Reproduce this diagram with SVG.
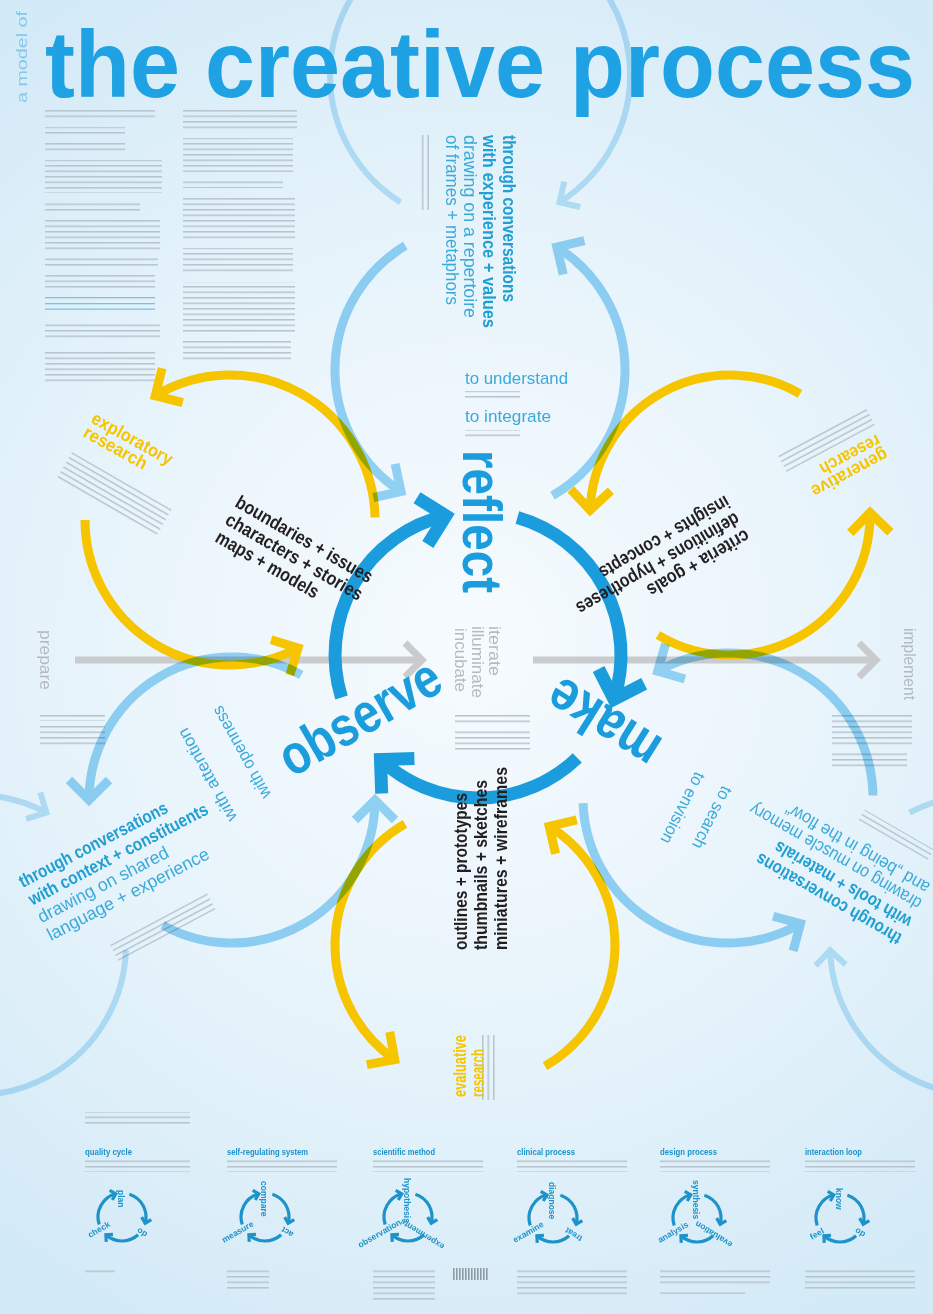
<svg xmlns="http://www.w3.org/2000/svg" width="933" height="1314" viewBox="0 0 933 1314">
<style>
.t{font-family:"Liberation Sans",Arial,sans-serif}
.big{fill:#1b9ddd;font-weight:bold;font-size:56px}
.blk{fill:#231f20;font-weight:bold;font-size:19px}
.tlb{fill:#1f9fd3;font-weight:bold;font-size:18px}
.tlr{fill:#3aaadb;font-size:18px}
.tls{fill:#3aaadb;font-size:17px}
.gw{fill:#b5babe;font-size:17px}
.yl{fill:#f6c500;font-weight:bold;font-size:18px}
.mt{fill:#1d93c9;font-weight:bold;font-size:9.5px}
.ml{fill:#1d93c9;font-weight:bold;font-size:8.5px}
.main{fill:none;stroke:#1b9ddd;stroke-width:13;marker-end:url(#mb)}
.yel{fill:none;stroke:#f6c500;stroke-width:9;marker-end:url(#my)}
.lb{fill:none;stroke:#99d6f5;stroke-width:9}
.lba{marker-end:url(#ml)}
.gh{fill:none;stroke:#c3e6f8;stroke-width:6}
.gha{marker-end:url(#mg)}
.gray{fill:none;stroke:#c9cbcd;stroke-width:7;marker-end:url(#mgr)}
.cy{fill:none;stroke:#1d93c9;stroke-width:3.2;marker-end:url(#mc)}
.tx{fill:url(#ln)}
</style>
<defs>
<radialGradient id="bg" cx="470" cy="640" r="760" gradientUnits="userSpaceOnUse">
<stop offset="0" stop-color="#f6fbfe"/>
<stop offset="0.5" stop-color="#e8f4fb"/>
<stop offset="1" stop-color="#d3eaf7"/>
</radialGradient>
<pattern id="ln" width="8" height="5.5" patternUnits="userSpaceOnUse"><rect width="8" height="1.5" fill="#b7c4cd"/></pattern>
<pattern id="bar" width="3" height="12" patternUnits="userSpaceOnUse"><rect width="1.6" height="12" fill="#8f9ba3"/></pattern>
<marker id="mb" markerUnits="userSpaceOnUse" orient="auto" overflow="visible" markerWidth="1" markerHeight="1"><path d="M-24,-24 L0,0 L-24,24" fill="none" stroke="#1b9ddd" stroke-width="13"/></marker>
<marker id="my" markerUnits="userSpaceOnUse" orient="auto" overflow="visible" markerWidth="1" markerHeight="1"><path d="M-20,-20 L0,0 L-20,20" fill="none" stroke="#f6c500" stroke-width="9"/></marker>
<marker id="ml" markerUnits="userSpaceOnUse" orient="auto" overflow="visible" markerWidth="1" markerHeight="1"><path d="M-20,-20 L0,0 L-20,20" fill="none" stroke="#99d6f5" stroke-width="9"/></marker>
<marker id="mg" markerUnits="userSpaceOnUse" orient="auto" overflow="visible" markerWidth="1" markerHeight="1"><path d="M-15,-15 L0,0 L-15,15" fill="none" stroke="#c3e6f8" stroke-width="6"/></marker>
<marker id="mgr" markerUnits="userSpaceOnUse" orient="auto" overflow="visible" markerWidth="1" markerHeight="1"><path d="M-17,-17 L0,0 L-17,17" fill="none" stroke="#c9cbcd" stroke-width="7"/></marker>
<marker id="mc" markerUnits="userSpaceOnUse" orient="auto" overflow="visible" markerWidth="1" markerHeight="1"><path d="M-5,-5 L0,0 L-5,5" fill="none" stroke="#1d93c9" stroke-width="3.2"/></marker>
<g id="cyc">
<path class="cy" d="M-22.8,7.4 A24,24 0 0 1 -6.2,-23.2"/>
<path class="cy" d="M7.4,-22.8 A24,24 0 0 1 23.2,6.2"/>
<path class="cy" d="M16.1,17.8 A24,24 0 0 1 -16.1,17.8"/>
</g>
</defs>

<rect width="933" height="1314" fill="url(#bg)"/>

<g id="smallprint">
<rect class="tx" x="45" y="110" width="110" height="8"/>
<rect class="tx" x="45" y="127" width="80" height="8"/>
<rect class="tx" x="45" y="143" width="80" height="8"/>
<rect class="tx" x="45" y="160" width="117" height="33"/>
<rect class="tx" x="45" y="203" width="95" height="8"/>
<rect class="tx" x="45" y="220" width="115" height="30"/>
<rect class="tx" x="45" y="258" width="113" height="8"/>
<rect class="tx" x="45" y="275" width="110" height="16"/>
<rect x="45" y="297" width="110" height="1.3" fill="#7cc1e4"/>
<rect x="45" y="303" width="110" height="1.3" fill="#7cc1e4"/>
<rect x="45" y="308.5" width="110" height="1.3" fill="#7cc1e4"/>
<rect class="tx" x="45" y="324" width="115" height="16"/>
<rect class="tx" x="45" y="352" width="110" height="33"/>
<rect class="tx" x="183" y="110" width="114" height="22"/>
<rect class="tx" x="183" y="138" width="110" height="34"/>
<rect class="tx" x="183" y="178" width="100" height="10"/>
<rect class="tx" x="183" y="195" width="112" height="45"/>
<rect class="tx" x="183" y="248" width="110" height="24"/>
<rect class="tx" x="183" y="282" width="112" height="50"/>
<rect class="tx" x="183" y="341" width="108" height="20"/>
<g transform="translate(418,135) rotate(90)"><rect class="tx" x="0" y="-14" width="75" height="14"/></g>
<rect class="tx" x="465" y="391" width="55" height="8"/>
<rect class="tx" x="465" y="430" width="55" height="8"/>
<rect class="tx" x="455" y="715" width="75" height="10"/>
<rect class="tx" x="455" y="731" width="75" height="22"/>
<rect class="tx" x="40" y="713" width="65" height="8"/>
<rect class="tx" x="40" y="726" width="65" height="20"/>
<rect class="tx" x="832" y="713" width="80" height="35"/>
<rect class="tx" x="832" y="753" width="75" height="16"/>
<g transform="translate(72,452) rotate(30)"><rect class="tx" x="0" y="0" width="115" height="32"/></g>
<g transform="translate(875,425) rotate(152)"><rect class="tx" x="0" y="0" width="100" height="20"/></g>
<g transform="translate(110,945) rotate(-28)"><rect class="tx" x="0" y="0" width="110" height="18"/></g>
<g transform="translate(928,860) rotate(210)"><rect class="tx" x="0" y="0" width="80" height="12"/></g>
<g transform="translate(482,1100) rotate(-90)"><rect class="tx" x="0" y="0" width="65" height="15"/></g>
<rect class="tx" x="85" y="1112" width="105" height="14"/>
<rect class="tx" x="85" y="1158" width="105" height="14"/>
<rect class="tx" x="227" y="1158" width="110" height="14"/>
<rect class="tx" x="373" y="1158" width="110" height="14"/>
<rect class="tx" x="517" y="1158" width="110" height="14"/>
<rect class="tx" x="660" y="1158" width="110" height="14"/>
<rect class="tx" x="805" y="1158" width="110" height="14"/>
<rect class="tx" x="85" y="1268" width="30" height="8"/>
<rect class="tx" x="227" y="1268" width="42" height="22"/>
<rect class="tx" x="373" y="1268" width="62" height="32"/>
<rect class="tx" x="517" y="1268" width="110" height="27"/>
<rect class="tx" x="660" y="1268" width="110" height="16"/>
<rect class="tx" x="660" y="1290" width="85" height="4"/>
<rect class="tx" x="805" y="1268" width="110" height="22"/>
<rect x="452" y="1268" width="36" height="12" fill="url(#bar)"/>
</g>

<g id="connectors">
<path class="gray" d="M75,660 H422"/>
<path class="gray" d="M533,660 H876"/>
<g id="research-loops">
<path class="yel" d="M375,517.5 A145,145 0 0 0 155.3,395.7"/>
<path class="yel" d="M85,520 A145,145 0 0 0 298.1,648"/>
<path class="yel" d="M800,393.8 A140,140 0 0 0 590.1,510.1"/>
<path class="yel" d="M657.9,635 A140,140 0 0 0 870,512.6"/>
<path class="yel" d="M405,823.8 A140,140 0 0 0 394.7,1059.7"/>
<path class="yel" d="M545,1066.2 A140,140 0 0 0 549.2,826.3"/>
</g>
<g id="conversation-loops" style="mix-blend-mode:multiply">
<path class="gh" d="M400.5,202.2 A150,150 0 0 1 405,-54.9"/>
<path class="gh gha" d="M531.3,-66 A150,150 0 0 1 559.5,202.2"/>
<path class="gh" d="M909.6,812.6 A150,150 0 0 1 1130,945"/>
<path class="gh gha" d="M1076.4,1059.9 A150,150 0 0 1 830.1,950.2"/>
<path class="gh" d="M125.9,950.2 A150,150 0 0 1 -99,1074.9"/>
<path class="gh gha" d="M-171.7,971 A150,150 0 0 1 46.4,812.6"/>
<path class="lb lba" d="M405.3,245.7 A145,145 0 0 0 401,491.6"/>
<path class="lb lba" d="M552.5,495.6 A145,145 0 0 0 556.8,247"/>
<path class="lb lba" d="M301.3,674.9 A143,143 0 0 0 89,800"/>
<path class="lb lba" d="M162.7,925.1 A143,143 0 0 0 375,800"/>
<path class="lb lba" d="M873,795.5 A145,145 0 0 0 657.7,671.2"/>
<path class="lb lba" d="M583.1,803.1 A145,145 0 0 0 800.5,923.6"/>
</g>
<g id="main-cycle">
<path class="main" d="M341.5,697.5 A143,143 0 0 1 445.8,515.7"/>
<path class="main" d="M517.4,517.5 A143,143 0 0 1 614,699.2"/>
<path class="main" d="M577.3,757.9 A143,143 0 0 1 380.5,759.6"/>
</g>
</g>

<g id="title" class="t">
<text transform="translate(45,97) scale(1,1.06)" font-size="90" font-weight="bold" fill="#1ea2e3" textLength="870" lengthAdjust="spacingAndGlyphs">the creative process</text>
<text transform="translate(27,103) rotate(-90)" font-size="14" fill="#86c8ea" textLength="92" lengthAdjust="spacingAndGlyphs">a model of</text>
</g>

<g id="phases" class="t">
<text class="gw" transform="translate(40,630) rotate(90)" font-size="18" textLength="60" lengthAdjust="spacingAndGlyphs">prepare</text>
<text class="gw" transform="translate(904,628) rotate(90)" font-size="18" textLength="72" lengthAdjust="spacingAndGlyphs">implement</text>
<text class="gw" transform="translate(455,628) rotate(90)" textLength="64" lengthAdjust="spacingAndGlyphs">incubate</text>
<text class="gw" transform="translate(472,626) rotate(90)" textLength="72" lengthAdjust="spacingAndGlyphs">illuminate</text>
<text class="gw" transform="translate(489,626) rotate(90)" textLength="50" lengthAdjust="spacingAndGlyphs">iterate</text>
</g>

<g id="node-reflect" class="t">
<text class="big" transform="translate(463,450) rotate(90)" textLength="143" lengthAdjust="spacingAndGlyphs">reflect</text>
<text class="tls" x="465" y="384" textLength="103" lengthAdjust="spacingAndGlyphs">to understand</text>
<text class="tls" x="465" y="422" textLength="86" lengthAdjust="spacingAndGlyphs">to integrate</text>
<text class="tlb" transform="translate(503,135) rotate(90)" textLength="167" lengthAdjust="spacingAndGlyphs">through conversations</text>
<text class="tlb" transform="translate(483,135) rotate(90)" textLength="193" lengthAdjust="spacingAndGlyphs">with experience + values</text>
<text class="tlr" transform="translate(464,135) rotate(90)" textLength="183" lengthAdjust="spacingAndGlyphs">drawing on a repertoire</text>
<text class="tlr" transform="translate(446,135) rotate(90)" textLength="170" lengthAdjust="spacingAndGlyphs">of frames + metaphors</text>
</g>

<g id="node-observe" class="t">
<text class="big" transform="translate(292,778) rotate(-30)" textLength="178" lengthAdjust="spacingAndGlyphs">observe</text>
<text class="tls" transform="translate(271.4,794.6) rotate(-119)" textLength="103" lengthAdjust="spacingAndGlyphs">with openness</text>
<text class="tls" transform="translate(237.4,817.6) rotate(-119)" textLength="104" lengthAdjust="spacingAndGlyphs">with attention</text>
<text class="tlb" transform="translate(22.8,888) rotate(-27.5)" textLength="165" lengthAdjust="spacingAndGlyphs">through conversations</text>
<text class="tlb" transform="translate(32.2,905.7) rotate(-27.5)" textLength="200" lengthAdjust="spacingAndGlyphs">with context + constituents</text>
<text class="tlr" transform="translate(41.6,923.3) rotate(-27.5)" textLength="145" lengthAdjust="spacingAndGlyphs">drawing on shared</text>
<text class="tlr" transform="translate(51,941) rotate(-27.5)" textLength="180" lengthAdjust="spacingAndGlyphs">language + experience</text>
</g>

<g id="node-make" class="t">
<text class="big" transform="translate(665,740) rotate(212)" textLength="122" lengthAdjust="spacingAndGlyphs">make</text>
<text class="tls" transform="translate(722.5,784.7) rotate(117)" textLength="68" lengthAdjust="spacingAndGlyphs">to search</text>
<text class="tls" transform="translate(695.5,770.7) rotate(117)" textLength="78" lengthAdjust="spacingAndGlyphs">to envision</text>
<text class="tlb" transform="translate(903,935) rotate(210)" textLength="165" lengthAdjust="spacingAndGlyphs">through conversations</text>
<text class="tlb" transform="translate(913,918) rotate(210)" textLength="155" lengthAdjust="spacingAndGlyphs">with tools + materials</text>
<text class="tlr" transform="translate(923,900) rotate(210)" textLength="195" lengthAdjust="spacingAndGlyphs">drawing on muscle memory</text>
<text class="tlr" transform="translate(931,884) rotate(210)" textLength="163" lengthAdjust="spacingAndGlyphs">and „being in the flow“</text>
</g>

<g id="artefacts-observe-reflect" class="t">
<text class="blk" transform="translate(234,506) rotate(30)" textLength="155" lengthAdjust="spacingAndGlyphs">boundaries + issues</text>
<text class="blk" transform="translate(224,523.5) rotate(30)" textLength="155" lengthAdjust="spacingAndGlyphs">characters + stories</text>
<text class="blk" transform="translate(214,541) rotate(30)" textLength="116" lengthAdjust="spacingAndGlyphs">maps + models</text>
</g>
<g id="artefacts-reflect-make" class="t">
<text class="blk" transform="translate(745,529) rotate(150)" textLength="115" lengthAdjust="spacingAndGlyphs">criteria + goals</text>
<text class="blk" transform="translate(735,512) rotate(150)" textLength="185" lengthAdjust="spacingAndGlyphs">definitions + hypotheses</text>
<text class="blk" transform="translate(725,495) rotate(150)" textLength="147" lengthAdjust="spacingAndGlyphs">insights + concepts</text>
</g>
<g id="artefacts-make-observe" class="t">
<text class="blk" transform="translate(467,950) rotate(-90)" textLength="157" lengthAdjust="spacingAndGlyphs">outlines + prototypes</text>
<text class="blk" transform="translate(487,950) rotate(-90)" textLength="170" lengthAdjust="spacingAndGlyphs">thumbnails + sketches</text>
<text class="blk" transform="translate(507,950) rotate(-90)" textLength="183" lengthAdjust="spacingAndGlyphs">miniatures + wireframes</text>
</g>

<g id="research-exploratory" class="t">
<text class="yl" transform="translate(90,422) rotate(29)" textLength="90" lengthAdjust="spacingAndGlyphs">exploratory</text>
<text class="yl" transform="translate(82,436) rotate(29)" textLength="70" lengthAdjust="spacingAndGlyphs">research</text>
</g>
<g id="research-generative" class="t">
<text class="yl" transform="translate(884,448) rotate(152)" textLength="84" lengthAdjust="spacingAndGlyphs">generative</text>
<text class="yl" transform="translate(876.5,434) rotate(152)" textLength="66" lengthAdjust="spacingAndGlyphs">research</text>
</g>
<g id="research-evaluative" class="t">
<text class="yl" transform="translate(466,1097) rotate(-90)" textLength="62" lengthAdjust="spacingAndGlyphs">evaluative</text>
<text class="yl" transform="translate(484,1097) rotate(-90)" textLength="48" lengthAdjust="spacingAndGlyphs">research</text>
</g>

<g id="mini-quality" class="t">
<text class="mt" x="85" y="1155" textLength="47" lengthAdjust="spacingAndGlyphs">quality cycle</text>
<use href="#cyc" x="122" y="1217"/>
<text class="ml" transform="translate(118,1190) rotate(90)">plan</text>
<text class="ml" transform="translate(90,1238) rotate(-30)">check</text>
<text class="ml" transform="translate(148,1233) rotate(212)">do</text>
</g>
<g id="mini-selfreg" class="t">
<text class="mt" x="227" y="1155" textLength="81" lengthAdjust="spacingAndGlyphs">self-regulating system</text>
<use href="#cyc" x="265" y="1217"/>
<text class="ml" transform="translate(261,1181) rotate(90)">compare</text>
<text class="ml" transform="translate(224,1243) rotate(-30)">measure</text>
<text class="ml" transform="translate(294,1233) rotate(212)">act</text>
</g>
<g id="mini-scientific" class="t">
<text class="mt" x="373" y="1155" textLength="62" lengthAdjust="spacingAndGlyphs">scientific method</text>
<use href="#cyc" x="408" y="1217"/>
<text class="ml" transform="translate(404,1178) rotate(90)">hypothesis</text>
<text class="ml" transform="translate(360,1248) rotate(-30)">observation</text>
<text class="ml" transform="translate(445,1245) rotate(212)">experiments</text>
</g>
<g id="mini-clinical" class="t">
<text class="mt" x="517" y="1155" textLength="58" lengthAdjust="spacingAndGlyphs">clinical process</text>
<use href="#cyc" x="553" y="1218"/>
<text class="ml" transform="translate(549,1182) rotate(90)">diagnose</text>
<text class="ml" transform="translate(515,1243) rotate(-30)">examine</text>
<text class="ml" transform="translate(583,1237) rotate(212)">treat</text>
</g>
<g id="mini-design" class="t">
<text class="mt" x="660" y="1155" textLength="57" lengthAdjust="spacingAndGlyphs">design process</text>
<use href="#cyc" x="697" y="1218"/>
<text class="ml" transform="translate(693,1180) rotate(90)">synthesis</text>
<text class="ml" transform="translate(660,1243) rotate(-30)">analysis</text>
<text class="ml" transform="translate(733,1243) rotate(212)">evaluation</text>
</g>
<g id="mini-interaction" class="t">
<text class="mt" x="805" y="1155" textLength="57" lengthAdjust="spacingAndGlyphs">interaction loop</text>
<use href="#cyc" x="840" y="1218"/>
<text class="ml" transform="translate(836,1188) rotate(90)">know</text>
<text class="ml" transform="translate(812,1240) rotate(-30)">feel</text>
<text class="ml" transform="translate(866,1233) rotate(212)">do</text>
</g>
</svg>
